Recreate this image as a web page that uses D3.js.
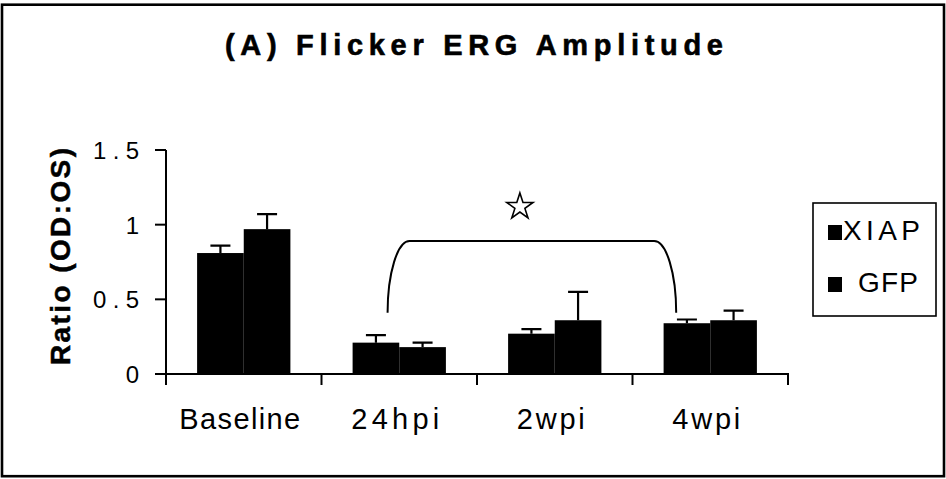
<!DOCTYPE html>
<html>
<head>
<meta charset="utf-8">
<script src="https://cdn.jsdelivr.net/npm/d3@7"></script>
<style>
  html, body { margin: 0; padding: 0; background: #fff; }
  svg { display: block; }
  .narrow { font-family: "Liberation Sans Narrow", "Liberation Sans", Arial, sans-serif; }
  .bold { font-family: "Liberation Sans", Arial, sans-serif; font-weight: bold; }
</style>
</head>
<body>
<svg id="chart" width="946" height="479"></svg>
<script>
// Flicker ERG amplitude ratio (OD:OS) per time point
const categories = ["Baseline", "24hpi", "2wpi", "4wpi"];
const seriesNames = ["XIAP", "GFP"];
const xiapValues = [0.81, 0.21, 0.27, 0.34];
const gfpValues  = [0.97, 0.18, 0.36, 0.36];
const xiapErrors = [0.05, 0.05, 0.03, 0.025];
const gfpErrors  = [0.10, 0.03, 0.19, 0.065];
const yTicks = [0, 0.5, 1, 1.5];
const yTickLabels = ["0", "0.5", "1", "1.5"];

// significance bracket between 24hpi and 4wpi
const bracketFrom = "24hpi";
const bracketTo = "4wpi";
const bracketTop = 0.89;
const bracketFoot = 0.41;
const starLevel = 1.12;

const svg = d3.select("#chart");

// outer frame
svg.append("rect")
  .attr("x", 2).attr("y", 4.7).attr("width", 942).attr("height", 471.5)
  .attr("fill", "#fff").attr("stroke", "#000").attr("stroke-width", 2.6);

const plotLeft = 166, plotRight = 788, plotTop = 150, plotBottom = 374;

const y = d3.scaleLinear().domain([0, 1.5]).range([plotBottom, plotTop]);
const x0 = d3.scaleBand().domain(categories).range([plotLeft, plotRight])
  .paddingInner(0.4).paddingOuter(0.2);
const x1 = d3.scaleBand().domain(seriesNames).range([0, x0.bandwidth()]);

const rows = categories.map((c, i) => ({
  cat: c,
  bars: [
    { name: "XIAP", v: xiapValues[i], e: xiapErrors[i] },
    { name: "GFP",  v: gfpValues[i],  e: gfpErrors[i] }
  ]
}));

// title
svg.append("text")
  .attr("class", "bold")
  .attr("x", 225).attr("y", 55)
  .attr("font-size", 29)
  .attr("stroke", "#000").attr("stroke-width", 0.6)
  .attr("textLength", 498).attr("lengthAdjust", "spacing")
  .text("(A) Flicker ERG Amplitude");

// y axis title
svg.append("text")
  .attr("class", "bold")
  .attr("transform", "translate(70,365) rotate(-90)")
  .attr("font-size", 28)
  .attr("stroke", "#000").attr("stroke-width", 0.5)
  .attr("textLength", 217).attr("lengthAdjust", "spacing")
  .text("Ratio (OD:OS)");

// bars
const groups = svg.append("g").selectAll("g").data(rows).join("g")
  .attr("transform", d => `translate(${x0(d.cat)},0)`);

groups.selectAll("rect").data(d => d.bars).join("rect")
  .attr("x", d => x1(d.name))
  .attr("width", x1.bandwidth())
  .attr("y", d => y(d.v))
  .attr("height", d => y(0) - y(d.v))
  .attr("fill", "#000");

// error bars (upper only)
const capW = 20;
groups.selectAll("path.err").data(d => d.bars).join("path")
  .attr("class", "err")
  .attr("fill", "none").attr("stroke", "#000").attr("stroke-width", 2.2)
  .attr("d", d => {
    const cx = x1(d.name) + x1.bandwidth() / 2;
    const top = y(d.v + d.e);
    return `M${cx},${y(d.v)}V${top}M${cx - capW / 2},${top}H${cx + capW / 2}`;
  });

// y axis
const yAxis = svg.append("g").attr("transform", `translate(${plotLeft},0)`);
yAxis.append("line")
  .attr("x1", 0).attr("x2", 0).attr("y1", y(1.5)).attr("y2", plotBottom + 11)
  .attr("stroke", "#000").attr("stroke-width", 2);
yAxis.selectAll("line.tick").data(yTicks).join("line")
  .attr("class", "tick")
  .attr("x1", -11).attr("x2", 0)
  .attr("y1", d => y(d)).attr("y2", d => y(d))
  .attr("stroke", "#000").attr("stroke-width", 2);
yAxis.selectAll("text").data(yTicks).join("text")
  .attr("class", "narrow")
  .attr("x", -27).attr("y", d => y(d) + 9)
  .attr("text-anchor", "end")
  .attr("font-size", 24)
  .each(function (d, i) {
    const t = d3.select(this).text(yTickLabels[i]);
    if (yTickLabels[i].length > 1) t.attr("textLength", 46).attr("lengthAdjust", "spacing");
  });

// x axis
const xAxis = svg.append("g");
xAxis.append("line")
  .attr("x1", plotLeft).attr("x2", plotRight + 1)
  .attr("y1", plotBottom).attr("y2", plotBottom)
  .attr("stroke", "#000").attr("stroke-width", 2);
const boundaries = categories.map(c => x0(c) - x0.step() * x0.paddingOuter()).concat([plotRight]);
xAxis.selectAll("line.tick").data(boundaries).join("line")
  .attr("class", "tick")
  .attr("x1", d => d).attr("x2", d => d)
  .attr("y1", plotBottom).attr("y2", plotBottom + 11)
  .attr("stroke", "#000").attr("stroke-width", 2);
const xLabelWidths = { "Baseline": 121, "24hpi": 88, "2wpi": 68, "4wpi": 68 };
xAxis.selectAll("text").data(categories).join("text")
  .attr("class", "narrow")
  .attr("x", d => x0(d) + x0.bandwidth() / 2 - 4)
  .attr("y", 429)
  .attr("text-anchor", "middle")
  .attr("font-size", 29)
  .attr("textLength", d => xLabelWidths[d]).attr("lengthAdjust", "spacing")
  .text(d => d);

// significance bracket
const bx1 = x0(bracketFrom) + x1("XIAP") + x1.bandwidth() * 0.75;
const bx2 = x0(bracketTo) + x1.bandwidth() * 0.27;
const rx = 22;
const by = y(bracketTop), bf = y(bracketFoot);
const ry = bf - by;
svg.append("path")
  .attr("fill", "none").attr("stroke", "#000").attr("stroke-width", 2)
  .attr("d", `M${bx1},${bf}A${rx},${ry} 0 0 1 ${bx1 + rx},${by}H${bx2 - rx}A${rx},${ry} 0 0 1 ${bx2},${bf}`);

svg.append("path")
  .attr("transform", `translate(${(bx1 + bx2) / 2 - 12},${y(starLevel)})`)
  .attr("d", d3.symbol(d3.symbolStar, 214)())
  .attr("fill", "#fff").attr("stroke", "#000").attr("stroke-width", 1.6);

// legend
const legend = svg.append("g");
legend.append("rect")
  .attr("x", 813).attr("y", 203).attr("width", 123).attr("height", 113)
  .attr("fill", "#fff").attr("stroke", "#000").attr("stroke-width", 1.6);
const legendRows = [
  { name: seriesNames[0], sq: 225, base: 240, tx: 843, w: 77 },
  { name: seriesNames[1], sq: 277, base: 292, tx: 858, w: 60 }
];
legend.selectAll("rect.sw").data(legendRows).join("rect")
  .attr("class", "sw")
  .attr("x", 828).attr("y", d => d.sq).attr("width", 14).attr("height", 15)
  .attr("fill", "#000");
legend.selectAll("text").data(legendRows).join("text")
  .attr("class", "narrow")
  .attr("x", d => d.tx).attr("y", d => d.base)
  .attr("font-size", 28)
  .attr("textLength", d => d.w).attr("lengthAdjust", "spacing")
  .text(d => d.name);
</script>
</body>
</html>
